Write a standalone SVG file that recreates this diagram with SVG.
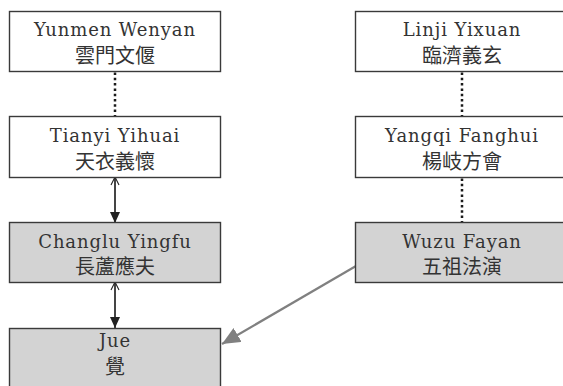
<svg xmlns="http://www.w3.org/2000/svg" width="563" height="386" viewBox="0 0 563 386">
<defs>
<style>
.box{fill:#ffffff;stroke:#3a3a3a;stroke-width:1.4}
.g{fill:#d3d3d3}
.lat{font-family:"DejaVu Serif","Liberation Serif",serif;font-size:18px;letter-spacing:0.9px;fill:#333;text-anchor:middle}
.cjk{font-family:"Noto Sans CJK TC","Noto Sans CJK JP",sans-serif;font-size:20px;fill:#333;text-anchor:middle}
.dot{stroke:#1a1a1a;stroke-width:2.5;stroke-dasharray:2.5 2.8;fill:none}
.arr{stroke:#222;stroke-width:1.2;fill:none}
.garr{stroke:#808080;stroke-width:2.2;fill:none}
</style>
<marker id="open" markerWidth="10" markerHeight="10" refX="9" refY="5" orient="auto" markerUnits="userSpaceOnUse">
<path d="M1,1 L9,5 L1,9" fill="none" stroke="#222" stroke-width="1.1"/>
</marker>
<marker id="fill" markerWidth="12" markerHeight="12" refX="11" refY="6" orient="auto" markerUnits="userSpaceOnUse">
<path d="M0,1 L11,6 L0,11 z" fill="#222"/>
</marker>
<marker id="gfill" markerWidth="20" markerHeight="16" refX="18" refY="8" orient="auto" markerUnits="userSpaceOnUse">
<path d="M0,0 L18,8 L0,16 z" fill="#808080"/>
</marker>
</defs>
<g id="connectors">
<line class="dot" x1="115" y1="72.5" x2="115" y2="116"/>
<line class="dot" x1="462" y1="72.5" x2="462" y2="116"/>
<line class="dot" x1="462" y1="178.5" x2="462" y2="222"/>
<line class="arr" x1="115" y1="223" x2="115" y2="177" marker-end="url(#open)"/>
<line class="arr" x1="115" y1="177" x2="115" y2="223" marker-end="url(#fill)"/>
<line class="arr" x1="115" y1="328" x2="115" y2="282" marker-end="url(#open)"/>
<line class="arr" x1="115" y1="282" x2="115" y2="328" marker-end="url(#fill)"/>
<line class="garr" x1="356" y1="266" x2="222" y2="344" marker-end="url(#gfill)"/>
</g>
<g id="yunmen">
<rect class="box" x="9.5" y="11.5" width="211" height="60"/>
<text class="lat" x="115" y="36">Yunmen Wenyan</text>
<text class="cjk" x="115" y="63">雲門文偃</text>
</g>
<g id="tianyi">
<rect class="box" x="9.5" y="116.5" width="211" height="61"/>
<text class="lat" x="115" y="142">Tianyi Yihuai</text>
<text class="cjk" x="115" y="169">天衣義懷</text>
</g>
<g id="changlu">
<rect class="box g" x="9.5" y="222.5" width="211" height="60"/>
<text class="lat" x="115" y="248">Changlu Yingfu</text>
<text class="cjk" x="115" y="274">長蘆應夫</text>
</g>
<g id="jue">
<rect class="box g" x="9.5" y="328.5" width="211" height="70"/>
<text class="lat" x="115" y="347">Jue</text>
<text class="cjk" x="115" y="374">覺</text>
</g>
<g id="linji">
<rect class="box" x="355.5" y="11.5" width="214" height="60"/>
<text class="lat" x="462" y="36">Linji Yixuan</text>
<text class="cjk" x="462" y="63">臨濟義玄</text>
</g>
<g id="yangqi">
<rect class="box" x="355.5" y="116.5" width="214" height="61"/>
<text class="lat" x="462" y="142">Yangqi Fanghui</text>
<text class="cjk" x="462" y="169">楊岐方會</text>
</g>
<g id="wuzu">
<rect class="box g" x="355.5" y="222.5" width="214" height="60"/>
<text class="lat" x="462" y="248">Wuzu Fayan</text>
<text class="cjk" x="462" y="274">五祖法演</text>
</g>
</svg>
